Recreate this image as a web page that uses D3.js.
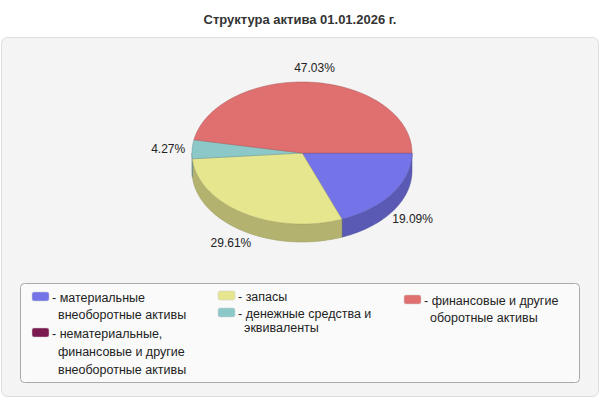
<!DOCTYPE html>
<html><head><meta charset="utf-8">
<script src="https://cdn.jsdelivr.net/npm/d3@7"></script>
<style>body{margin:0;background:#fff}svg{font-family:"Liberation Sans",Arial,sans-serif}</style>
</head><body><svg id="c" width="600" height="400"></svg>
<script>
const categories = ["материальные внеоборотные активы", "нематериальные, финансовые и другие внеоборотные активы", "запасы", "денежные средства и эквиваленты", "финансовые и другие оборотные активы"];
const values = [19.09, 0, 29.61, 4.27, 47.03];
const colors = ["#7474e8", "#7a1a50", "#e6e68f", "#8cc8c8", "#e07070"];
const legendLines = [["- материальные", "внеоборотные активы"], ["- нематериальные,", "финансовые и другие", "внеоборотные активы"], ["- запасы"], ["- денежные средства и", "эквиваленты"], ["- финансовые и другие", "оборотные активы"]];

const svg = d3.select("#c");
svg.append("text").attr("x", 300).attr("y", 24).attr("text-anchor", "middle")
  .attr("font-size", 13).attr("font-weight", "bold").attr("fill", "#333").text("Структура актива 01.01.2026 г.");
svg.append("rect").attr("x", 1.5).attr("y", 37.5).attr("width", 597).attr("height", 359).attr("rx", 6)
  .attr("fill", "#f4f4f4").attr("stroke", "#ddd");

const cx = 302, cy = 153, rx = 110, ry = 71, depth = 18;
const ang = d3.scaleLinear().domain([0, d3.sum(values)]).range([0, 2 * Math.PI]);
let acc = 0;
const slices = values.map((v, i) => { const s = { i, a0: ang(acc), a1: ang(acc + v), v }; acc += v; return s; });
const pt = (a, dy = 0) => [cx + rx * Math.cos(a), cy + ry * Math.sin(a) + dy];
const g = svg.append("g");

// side walls (front half only)
slices.forEach(s => {
  const a0 = Math.max(s.a0, 0), a1 = Math.min(s.a1, Math.PI);
  if (a1 <= a0) return;
  const p = d3.path();
  p.moveTo(...pt(a0));
  for (let a = a0; a <= a1; a += 0.02) p.lineTo(...pt(a));
  p.lineTo(...pt(a1));
  p.lineTo(...pt(a1, depth));
  for (let a = a1; a >= a0; a -= 0.02) p.lineTo(...pt(a, depth));
  p.lineTo(...pt(a0, depth));
  p.closePath();
  const c = d3.color(colors[s.i]).darker(0.7);
  g.append("path").attr("d", p.toString()).attr("fill", c).attr("stroke", c.darker(0.5)).attr("stroke-width", 0.5);
});
// tops
slices.forEach(s => {
  if (s.v <= 0) return;
  const p = d3.path();
  p.moveTo(cx, cy);
  for (let a = s.a0; a <= s.a1; a += 0.02) p.lineTo(...pt(a));
  p.lineTo(...pt(s.a1));
  p.closePath();
  g.append("path").attr("d", p.toString()).attr("fill", colors[s.i])
    .attr("stroke", d3.color(colors[s.i]).darker(0.8)).attr("stroke-width", 0.5);
});
// labels
slices.forEach(s => {
  if (s.v <= 0) return;
  const m = (s.a0 + s.a1) / 2;
  const x = cx + (rx + 24) * Math.cos(m), y = cy + (ry + 14) * Math.sin(m) + (Math.sin(m) > 0 ? depth : 0) + 4;
  g.append("text").attr("x", x).attr("y", y).attr("text-anchor", "middle").attr("font-size", 12)
    .attr("fill", "#222").text(s.v.toFixed(2) + "%");
});

// legend
svg.append("rect").attr("x", 20.5).attr("y", 283.5).attr("width", 559).attr("height", 99).attr("rx", 4)
  .attr("fill", "#fafafa").attr("stroke", "#aaa");
const legPos = [[32, 298, 17], [32, 334, 18], [218, 297, 17], [218, 314, 14], [404, 301, 17]];
legendLines.forEach((lines, i) => {
  const [x, y, lh] = legPos[i];
  svg.append("rect").attr("x", x).attr("y", y - 6).attr("width", 17).attr("height", 9).attr("rx", 2)
    .attr("fill", colors[i]).attr("stroke", "#ccc").attr("stroke-width", 0.5);
  const t = svg.append("text").attr("font-size", 12.5).attr("fill", "#222");
  lines.forEach((l, k) => t.append("tspan").attr("x", k ? x + 26 : x + 20).attr("y", y + 4 + k * lh).text(l));
});
</script></body></html>
